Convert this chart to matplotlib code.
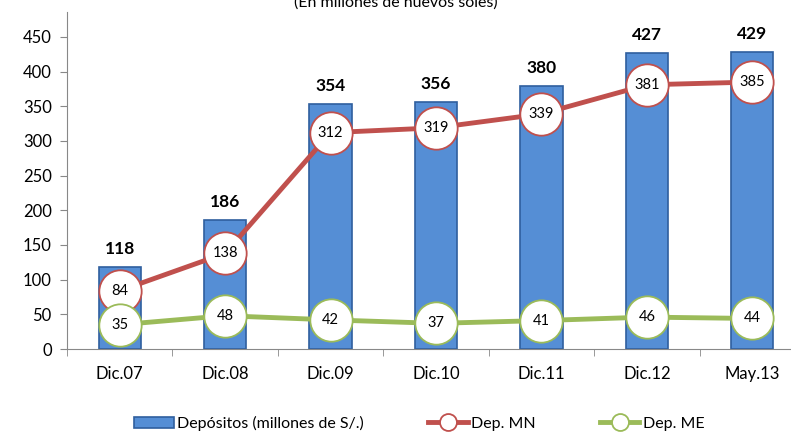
import numpy as np
import matplotlib.pyplot as plt

categorias = ['Dic.07', 'Dic.08', 'Dic.09', 'Dic.10', 'Dic.11', 'Dic.12', 'May.13']
depositos = [118, 186, 354, 356, 380, 427, 429]
dep_mn = [84, 138, 312, 319, 339, 381, 385]
dep_me = [35, 48, 42, 37, 41, 46, 44]

plt.rcParams['font.family'] = ['Lato', 'DejaVu Sans']

fig = plt.figure(figsize=(7.91, 4.34), dpi=100)
ax = fig.add_axes([67 / 791, 85 / 434, 738 / 791, 337 / 434])

x = np.arange(len(categorias))
bars = ax.bar(x, depositos, width=0.4, color='#558ED5', edgecolor='#2F5F9E', linewidth=1.2,
              label='Depósitos (millones de S/.)', zorder=2)
l_mn, = ax.plot(x, dep_mn, color='#C0504D', lw=3.5, marker='o', ms=30.5, mfc='white', mec='#C0504D',
                mew=1.3, label='Dep. MN', zorder=3)
l_me, = ax.plot(x, dep_me, color='#9BBB59', lw=3.5, marker='o', ms=30.5, mfc='white', mec='#9BBB59',
                mew=1.3, label='Dep. ME', zorder=4)

for i in range(len(x)):
    ax.text(x[i], depositos[i] + 14, str(depositos[i]), ha='center', va='bottom',
            fontsize=12.5, fontweight='bold')
    ax.text(x[i], dep_mn[i], str(dep_mn[i]), ha='center', va='center', fontsize=10.5, zorder=5)
    ax.text(x[i], dep_me[i], str(dep_me[i]), ha='center', va='center', fontsize=10.5, zorder=5)

ax.set_xlim(-0.5, len(x) - 0.5)
ax.set_ylim(0, 486)
ax.set_yticks(range(0, 451, 50))
ax.set_xticks(x)
ax.set_xticklabels(categorias)
ax.set_xticks(np.arange(-0.5, len(x), 1), minor=True)
ax.tick_params(axis='x', which='major', length=0, pad=12, labelsize=12)
ax.tick_params(axis='x', which='minor', length=5, color='#888888')
ax.tick_params(axis='y', length=5, color='#888888', labelsize=12, pad=6)
for s in ['top', 'right']:
    ax.spines[s].set_visible(False)
for s in ['left', 'bottom']:
    ax.spines[s].set_color('#888888')

fig.text(0.5, 0.995, '(En millones de nuevos soles)', ha='center', va='center', fontsize=11.5)

fig.legend([bars, l_mn, l_me], ['Depósitos (millones de S/.)', 'Dep. MN', 'Dep. ME'],
           loc='center', bbox_to_anchor=(0.53, 0.025), ncol=3, frameon=False,
           fontsize=11.5, markerscale=0.4, handlelength=2.5, columnspacing=4, handletextpad=0.2)

fig.savefig('out.png', dpi=100)
